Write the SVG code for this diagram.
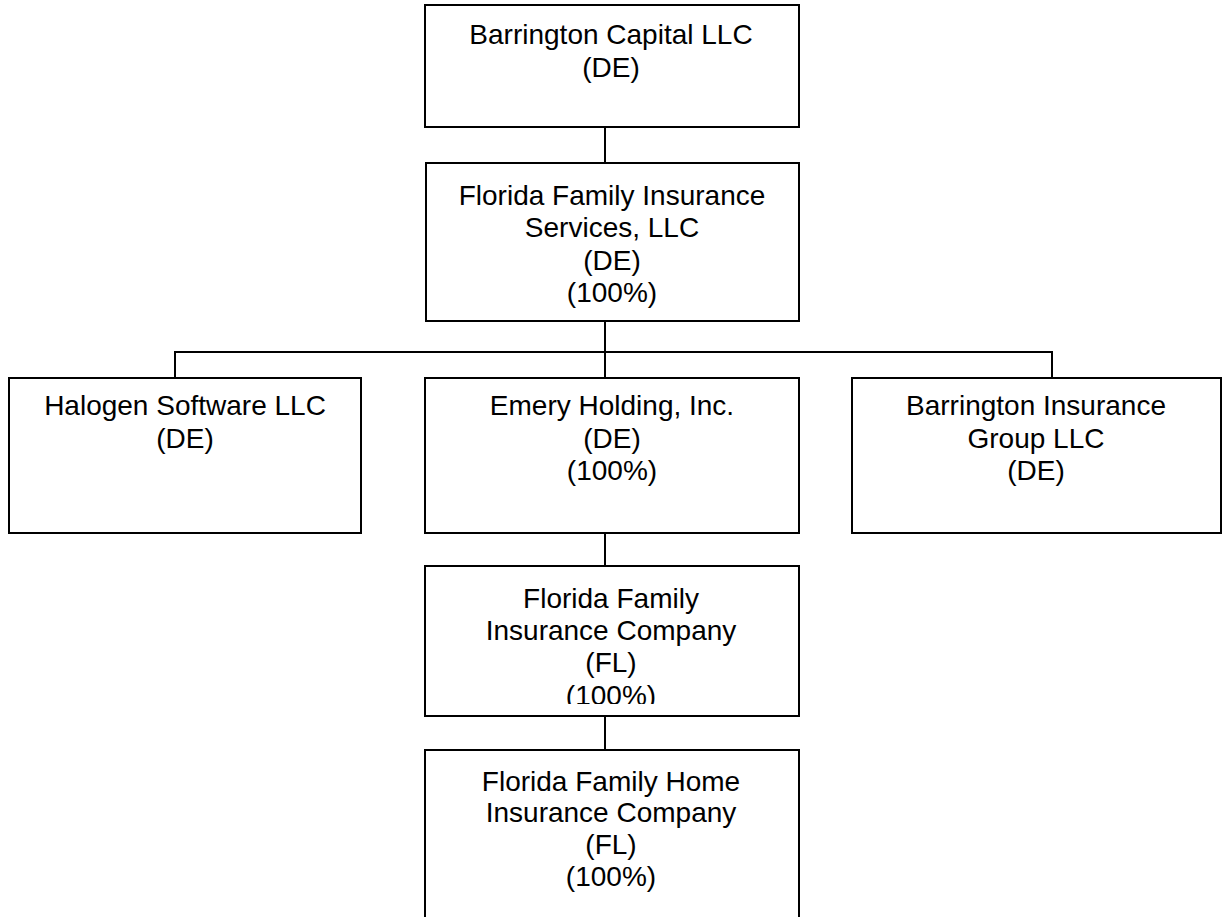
<svg xmlns="http://www.w3.org/2000/svg" width="1228" height="917" viewBox="0 0 1228 917">
<style>
.box{fill:#fff;stroke:#000;stroke-width:2}
.ln{fill:none;stroke:#000;stroke-width:2}
text{font-family:"Liberation Sans",Arial,sans-serif;font-size:28px;fill:#000;text-anchor:middle}
</style>
<defs>
<clipPath id="c4"><rect x="425" y="566" width="374" height="138"/></clipPath>
</defs>
<rect width="1228" height="917" fill="#fff"/>
<g id="connectors">
<line class="ln" x1="605" y1="127" x2="605" y2="163"/>
<line class="ln" x1="605" y1="321" x2="605" y2="378"/>
<polyline class="ln" points="175,378 175,352 1052,352 1052,378"/>
<line class="ln" x1="605" y1="533" x2="605" y2="566"/>
<line class="ln" x1="605" y1="716" x2="605" y2="750"/>
</g>
<g id="n1">
<rect class="box" x="425" y="5" width="374" height="122"/>
<text x="611" y="44">Barrington Capital LLC</text>
<text x="611" y="77">(DE)</text>
</g>
<g id="n2">
<rect class="box" x="426" y="163" width="373" height="158"/>
<text x="612" y="205">Florida Family Insurance</text>
<text x="612" y="237">Services, LLC</text>
<text x="612" y="270">(DE)</text>
<text x="612" y="302">(100%)</text>
</g>
<g id="n3">
<rect class="box" x="9" y="378" width="352" height="155"/>
<text x="185" y="415">Halogen Software LLC</text>
<text x="185" y="448">(DE)</text>
</g>
<g id="n4">
<rect class="box" x="425" y="378" width="374" height="155"/>
<text x="612" y="415">Emery Holding, Inc.</text>
<text x="612" y="448">(DE)</text>
<text x="612" y="480">(100%)</text>
</g>
<g id="n5">
<rect class="box" x="852" y="378" width="369" height="155"/>
<text x="1036" y="415">Barrington Insurance</text>
<text x="1036" y="448">Group LLC</text>
<text x="1036" y="480">(DE)</text>
</g>
<g id="n6">
<rect class="box" x="425" y="566" width="374" height="150"/>
<g clip-path="url(#c4)">
<text x="611" y="608">Florida Family</text>
<text x="611" y="640">Insurance Company</text>
<text x="611" y="672">(FL)</text>
<text x="611" y="705">(100%)</text>
</g>
</g>
<g id="n7">
<polyline class="ln" points="425,917 425,750 799,750 799,917"/>
<text x="611" y="791">Florida Family Home</text>
<text x="611" y="822">Insurance Company</text>
<text x="611" y="854">(FL)</text>
<text x="611" y="886">(100%)</text>
</g>
</svg>
